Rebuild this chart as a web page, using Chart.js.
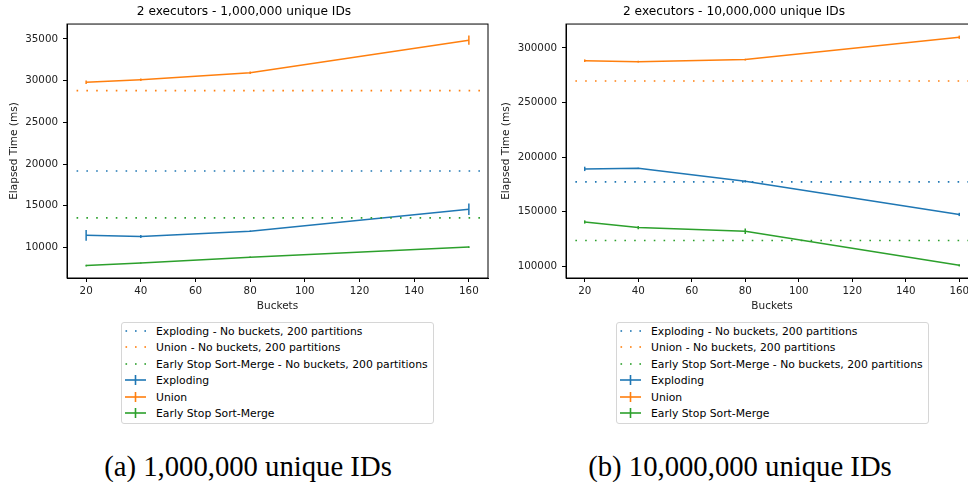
<!DOCTYPE html>
<html>
<head>
<meta charset="utf-8">
<script src="https://cdn.jsdelivr.net/npm/chart.js@4/dist/chart.umd.min.js"></script>
<style>
  html, body { margin: 0; padding: 0; background: #fff; overflow: hidden; }
  body { width: 968px; height: 482px; position: relative; }
  .plot { position: absolute; top: 0; }
  .legend {
    position: absolute; top: 322px; width: 313px; height: 102px; box-sizing: border-box;
    border: 1px solid #d6d6d6; border-radius: 3px; padding: 0.5px 0 0 3px;
    font: 10.8px "DejaVu Sans", sans-serif; color: #000;
  }
  .legend div { height: 16.6px; line-height: 16.6px; white-space: nowrap; }
  .legend svg { vertical-align: middle; margin-right: 10px; position: relative; top: -1px; }
  .caption {
    position: absolute; top: 451px; width: 400px; text-align: center;
    font: 28.7px/30px "Liberation Serif", "Times New Roman", serif; color: #000;
  }
</style>
</head>
<body>
<div class="plot" style="left:0"><canvas id="chart1M" width="490" height="318"></canvas></div>
<div class="plot" style="left:490px"><canvas id="chart10M" width="490" height="318"></canvas></div>
<div class="legend" id="legend1M" style="left:121px"></div>
<div class="legend" id="legend10M" style="left:616px"></div>
<div class="caption" style="left:48px">(a) 1,000,000 unique IDs</div>
<div class="caption" style="left:540px">(b) 10,000,000 unique IDs</div>

<script>
// buckets on the x axis
const buckets = [20, 40, 80, 160];
const xTicks = [20, 40, 60, 80, 100, 120, 140, 160];

// 1,000,000 unique IDs
const exploding1M = [11450, 11300, 11950, 14580];
const exploding1MErr = [640, 180, 80, 700];
const union1M = [29800, 30100, 30950, 34850];
const union1MErr = [200, 150, 150, 550];
const sortMerge1M = [7820, 8130, 8820, 10040];
const sortMerge1MErr = [100, 60, 100, 100];
const noBuckets1M = [19170, 28800, 13540]; // exploding, union, early stop
const yTicks1M = [10000, 15000, 20000, 25000, 30000, 35000];

// 10,000,000 unique IDs
const exploding10M = [189200, 189800, 177800, 147500];
const exploding10MErr = [2000, 500, 1000, 1500];
const union10M = [288200, 287300, 289300, 309700];
const union10MErr = [1200, 800, 800, 1500];
const sortMerge10M = [140600, 135500, 132100, 100900];
const sortMerge10MErr = [1500, 1500, 2500, 1000];
const noBuckets10M = [177300, 269600, 123600];
const yTicks10M = [100000, 150000, 200000, 250000, 300000];

const seriesNames = ['Exploding', 'Union', 'Early Stop Sort-Merge'];
const colors = ['#1f77b4', '#ff7f0e', '#2ca02c'];
const FONT = "'DejaVu Sans', sans-serif";

// matplotlib style autoscale: data range (with error bars) plus 5% margins
function autoRange(values, errors) {
    let lo = Infinity, hi = -Infinity;
    values.forEach((v, i) => {
        lo = Math.min(lo, v - errors[i]);
        hi = Math.max(hi, v + errors[i]);
    });
    const m = (hi - lo) * 0.05;
    return [lo - m, hi + m];
}

// error bars and the closed axes box
const errorBarPlugin = {
    id: 'errorBars',
    afterDatasetsDraw(chart) {
        const { ctx, scales: { x, y }, chartArea } = chart;
        ctx.save();
        chart.data.datasets.forEach(ds => {
            if (!ds.errors) return;
            ctx.strokeStyle = ds.borderColor;
            ctx.lineWidth = 1.5;
            ds.data.forEach((p, i) => {
                const px = x.getPixelForValue(p.x);
                ctx.beginPath();
                ctx.moveTo(px, y.getPixelForValue(p.y - ds.errors[i]));
                ctx.lineTo(px, y.getPixelForValue(p.y + ds.errors[i]));
                ctx.stroke();
            });
        });
        ctx.strokeStyle = '#000';
        ctx.lineWidth = 1;
        ctx.strokeRect(chartArea.left, chartArea.top, chartArea.right - chartArea.left, chartArea.bottom - chartArea.top);
        ctx.restore();
    }
};

function makeChart(id, title, series, errors, baselines, yTicks, yWidth, yTitlePad) {
    const xMin = 13, xMax = 167;
    let allVals = [], allErr = [];
    series.forEach((s, i) => { allVals = allVals.concat(s); allErr = allErr.concat(errors[i]); });
    const [yMin, yMax] = autoRange(allVals, allErr);

    const datasets = [];
    baselines.forEach((v, i) => {
        datasets.push({
            label: seriesNames[i] + ' - No buckets, 200 partitions',
            data: [{ x: 16.5, y: v }, { x: 164.5, y: v }],
            borderColor: colors[i],
            borderWidth: 1.6,
            borderDash: [1.6, 8.2],
            pointRadius: 0
        });
    });
    series.forEach((s, i) => {
        datasets.push({
            label: seriesNames[i],
            data: buckets.map((b, j) => ({ x: b, y: s[j] })),
            errors: errors[i],
            borderColor: colors[i],
            borderWidth: 1.5,
            pointRadius: 0,
            tension: 0
        });
    });

    return new Chart(document.getElementById(id), {
        type: 'line',
        data: { datasets },
        plugins: [errorBarPlugin],
        options: {
            responsive: false,
            animation: false,
            layout: { padding: { left: 0, right: 2, top: 0, bottom: 0 } },
            plugins: {
                legend: { display: false },
                tooltip: { enabled: false },
                title: {
                    display: true,
                    text: title,
                    color: '#000',
                    font: { family: FONT, size: 12.2, weight: 'normal' },
                    padding: { top: 5, bottom: 4.4 }
                }
            },
            scales: {
                x: {
                    type: 'linear',
                    min: xMin,
                    max: xMax,
                    afterBuildTicks: s => { s.ticks = xTicks.map(v => ({ value: v })); },
                    afterFit: s => { s.height = 40; },
                    grid: { display: true, drawOnChartArea: false, tickLength: 4, color: '#000' },
                    border: { display: true, color: '#000' },
                    ticks: { color: '#222', font: { family: FONT, size: 10.3 }, padding: 3, maxRotation: 0 },
                    title: { display: true, text: 'Buckets', color: '#222', font: { family: FONT, size: 10.5 }, padding: { top: 0, bottom: 5 } }
                },
                y: {
                    min: yMin,
                    max: yMax,
                    afterBuildTicks: s => { s.ticks = yTicks.map(v => ({ value: v })); },
                    afterFit: s => { s.width = yWidth; },
                    grid: { display: true, drawOnChartArea: false, tickLength: 4, color: '#000' },
                    border: { display: true, color: '#000' },
                    ticks: { color: '#222', font: { family: FONT, size: 10.3 }, padding: 5, callback: v => String(v) },
                    title: { display: true, text: 'Elapsed Time (ms)', color: '#222', font: { family: FONT, size: 10.5 }, padding: { top: yTitlePad, bottom: 0 } }
                }
            }
        }
    });
}

makeChart('chart1M', '2 executors - 1,000,000 unique IDs',
    [exploding1M, union1M, sortMerge1M], [exploding1MErr, union1MErr, sortMerge1MErr],
    noBuckets1M, yTicks1M, 67, 8);
makeChart('chart10M', '2 executors - 10,000,000 unique IDs',
    [exploding10M, union10M, sortMerge10M], [exploding10MErr, union10MErr, sortMerge10MErr],
    noBuckets10M, yTicks10M, 76, 10);

// legends under each plot
function dottedIcon(c) {
    return '<svg width="21" height="10"><g fill="' + c + '">' +
        '<rect x="0.5" y="4.2" width="1.6" height="1.6"/><rect x="10" y="4.2" width="1.6" height="1.6"/>' +
        '<rect x="19.4" y="4.2" width="1.6" height="1.6"/></g></svg>';
}
function crossIcon(c) {
    return '<svg width="21" height="10"><g stroke="' + c + '" stroke-width="1.6">' +
        '<line x1="0" y1="5" x2="21" y2="5"/><line x1="10.5" y1="0" x2="10.5" y2="10"/></g></svg>';
}
['legend1M', 'legend10M'].forEach(id => {
    const el = document.getElementById(id);
    let html = '';
    seriesNames.forEach((n, i) => { html += '<div>' + dottedIcon(colors[i]) + n + ' - No buckets, 200 partitions</div>'; });
    seriesNames.forEach((n, i) => { html += '<div>' + crossIcon(colors[i]) + n + '</div>'; });
    el.innerHTML = html;
});
</script>
</body>
</html>
